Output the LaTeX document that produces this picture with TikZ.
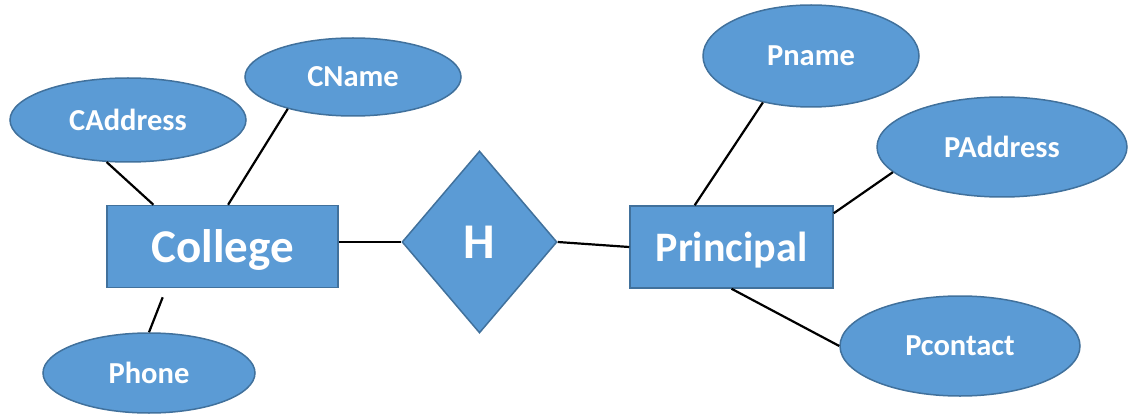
\documentclass[tikz,border=0pt]{standalone}
\usepackage{fontspec}
\setmainfont{Carlito}
\usetikzlibrary{shapes.geometric,calc}
\definecolor{fillblue}{HTML}{5B9BD5}
\definecolor{edgeblue}{HTML}{41719C}
\tikzset{
  attr/.style={ellipse, draw=edgeblue, fill=fillblue, line width=1.5pt, inner sep=0pt,
    text=white, font=\bfseries\fontsize{30.5}{36}\selectfont},
  entity/.style={rectangle, draw=edgeblue, fill=fillblue, line width=1.5pt, inner sep=0pt,
    minimum height=82pt, text=white},
  rel/.style={diamond, draw=edgeblue, fill=fillblue, line width=1.5pt, inner sep=0pt,
    minimum width=155pt, minimum height=182pt, aspect=0.85, text=white,
    font=\bfseries\fontsize{50}{60}\selectfont},
  conn/.style={line width=2.2pt, black}
}
\begin{document}
\begin{tikzpicture}[x=1pt,y=-1pt]
\useasboundingbox (0,0) rectangle (1129,414);
% entities
\node[entity, minimum width=231pt, text height=40pt, text depth=8.6pt, font=\bfseries\fontsize{47}{54}\selectfont] (college) at (222.5,246.5) {College};
\node[entity, minimum width=203pt, text height=37pt, text depth=8pt, font=\bfseries\fontsize{42}{50}\selectfont] (principal) at (731.5,247) {Principal};
% relationship
\node[rel] (h) at (479.5,242) {H};
% attributes
\node[attr, minimum width=236pt, minimum height=84pt] (caddr) at (128,120) {CAddress};
\node[attr, minimum width=216pt, minimum height=78pt] (cname) at (353,77) {CName};
\node[attr, minimum width=212pt, minimum height=80pt] (phone) at (149,373) {Phone};
\node[attr, minimum width=216pt, minimum height=102pt] (pname) at (811,56) {Pname};
\node[attr, minimum width=250pt, minimum height=100pt] (paddr) at (1002,147) {PAddress};
\node[attr, minimum width=240pt, minimum height=100pt] (pcontact) at (960,346) {Pcontact};
% connectors
\draw[conn] (caddr.-117) -- ($(college.north west)!0.203!(college.north east)$);
\draw[conn] (cname.-154) -- ($(college.north west)!0.524!(college.north east)$);
\draw[conn, shorten <=9.7pt] ($(college.south west)!0.258!(college.south east)$) -- (phone.north);
\draw[conn] (college.east |- h.west) -- (h.west);
\draw[conn] (h.east) -- (principal.west);
\draw[conn] (pname.-136) -- ($(principal.north west)!0.32!(principal.north east)$);
\draw[conn] (paddr.-167) -- ($(principal.north east)+(0,8)$);
\draw[conn] (principal.south) -- (pcontact.west);
\end{tikzpicture}
\end{document}
